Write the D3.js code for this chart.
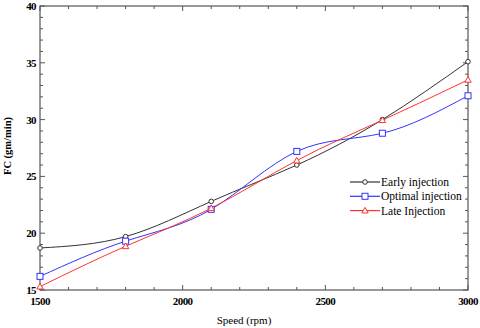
<!DOCTYPE html>
<html><head><meta charset="utf-8">
<script src="https://cdn.jsdelivr.net/npm/d3@7"></script>
<style>
body{margin:0;background:#fff;}
svg{display:block;font-family:"Liberation Serif","Times New Roman",serif;}
</style></head>
<body><div id="chart"></div>
<script>
const speeds = [1500, 1800, 2100, 2400, 2700, 3000];
const early = [18.7, 19.7, 22.8, 26.0, 30.0, 35.1];
const optimal = [16.2, 19.3, 22.1, 27.2, 28.8, 32.1];
const late = [15.3, 18.85, 22.2, 26.4, 29.95, 33.5];
const seriesNames = ["Early injection", "Optimal injection", "Late Injection"];
const xTicks = [1500, 2000, 2500, 3000];
const yTicks = [15, 20, 25, 30, 35, 40];

const W = 480, H = 328;
const m = {l: 40, t: 6, r: 12, b: 38};
const svg = d3.select("#chart").append("svg").attr("width", W).attr("height", H);
const x = d3.scaleLinear().domain([1500, 3000]).range([m.l, W - m.r]);
const y = d3.scaleLinear().domain([15, 40]).range([H - m.b, m.t]);

const series = [
  {name: seriesNames[0], vals: early, color: "#333333", marker: "circle"},
  {name: seriesNames[1], vals: optimal, color: "#3333ff", marker: "square"},
  {name: seriesNames[2], vals: late, color: "#ff3333", marker: "triangle"}
];

// axes with inward ticks
const minorX = d3.range(1500, 3001, 100);
const minorY = d3.range(15, 41, 1);
const gAx = svg.append("g").attr("stroke", "#555").attr("stroke-width", 1);
const x0 = m.l, x1 = W - m.r, y0 = H - m.b, y1 = m.t;
minorX.forEach(v => {
  const len = (v % 500 === 0) ? 5 : 3;
  gAx.append("line").attr("x1", x(v)).attr("x2", x(v)).attr("y1", y0).attr("y2", y0 - len);
  gAx.append("line").attr("x1", x(v)).attr("x2", x(v)).attr("y1", y1).attr("y2", y1 + len);
});
minorY.forEach(v => {
  const len = (v % 5 === 0) ? 5 : 3;
  gAx.append("line").attr("x1", x0).attr("x2", x0 + len).attr("y1", y(v)).attr("y2", y(v));
  gAx.append("line").attr("x1", x1).attr("x2", x1 - len).attr("y1", y(v)).attr("y2", y(v));
});
svg.append("rect").attr("x", x0).attr("y", y1).attr("width", x1 - x0).attr("height", y0 - y1)
  .attr("fill", "none").attr("stroke", "#555").attr("stroke-width", 1.2);

// tick labels
svg.append("g").selectAll("text").data(xTicks).join("text")
  .attr("x", d => x(d)).attr("y", y0 + 15).attr("text-anchor", "middle")
  .attr("font-size", 11).attr("font-weight", "bold").attr("letter-spacing", -0.6)
  .text(d => d);
svg.append("g").selectAll("text").data(yTicks).join("text")
  .attr("x", x0 - 4).attr("y", d => y(d) + 4).attr("text-anchor", "end")
  .attr("font-size", 11).attr("font-weight", "bold").attr("letter-spacing", -0.6)
  .text(d => d);

// axis titles
svg.append("text").attr("x", 244).attr("y", 324).attr("text-anchor", "middle")
  .attr("font-size", 11).text("Speed (rpm)");
svg.append("text").attr("transform", "translate(11,146) rotate(-90)").attr("text-anchor", "middle")
  .attr("font-size", 10.5).attr("font-weight", "bold").text("FC (gm/min)");

const line = d3.line().curve(d3.curveNatural).x(d => x(d[0])).y(d => y(d[1]));

function drawMarker(g, type, cx, cy, color) {
  if (type === "circle") {
    g.append("circle").attr("cx", cx).attr("cy", cy).attr("r", 2.3)
      .attr("fill", "#fff").attr("stroke", color).attr("stroke-width", 1);
  } else if (type === "square") {
    g.append("rect").attr("x", cx - 3).attr("y", cy - 3).attr("width", 6).attr("height", 6)
      .attr("fill", "#fff").attr("stroke", color).attr("stroke-width", 1);
  } else {
    g.append("path").attr("d", `M${cx},${cy - 3.2}L${cx + 3.2},${cy + 2.4}L${cx - 3.2},${cy + 2.4}Z`)
      .attr("fill", "#fff").attr("stroke", color).attr("stroke-width", 1);
  }
}

const gLines = svg.append("g");
series.forEach(s => {
  const pts = speeds.map((v, i) => [v, s.vals[i]]);
  gLines.append("path").attr("d", line(pts)).attr("fill", "none")
    .attr("stroke", s.color).attr("stroke-width", 1);
});
series.forEach(s => {
  speeds.forEach((v, i) => drawMarker(gLines, s.marker, x(v), y(s.vals[i]), s.color));
});

// legend
const lg = svg.append("g");
series.forEach((s, i) => {
  const ly = 182 + i * 14.3;
  lg.append("line").attr("x1", 350).attr("x2", 380).attr("y1", ly).attr("y2", ly)
    .attr("stroke", s.color).attr("stroke-width", 1.2);
  drawMarker(lg, s.marker, 365, ly, s.color);
  lg.append("text").attr("x", 381).attr("y", ly + 4).attr("font-size", 11.5)
    .text(s.name);
});
</script></body></html>
